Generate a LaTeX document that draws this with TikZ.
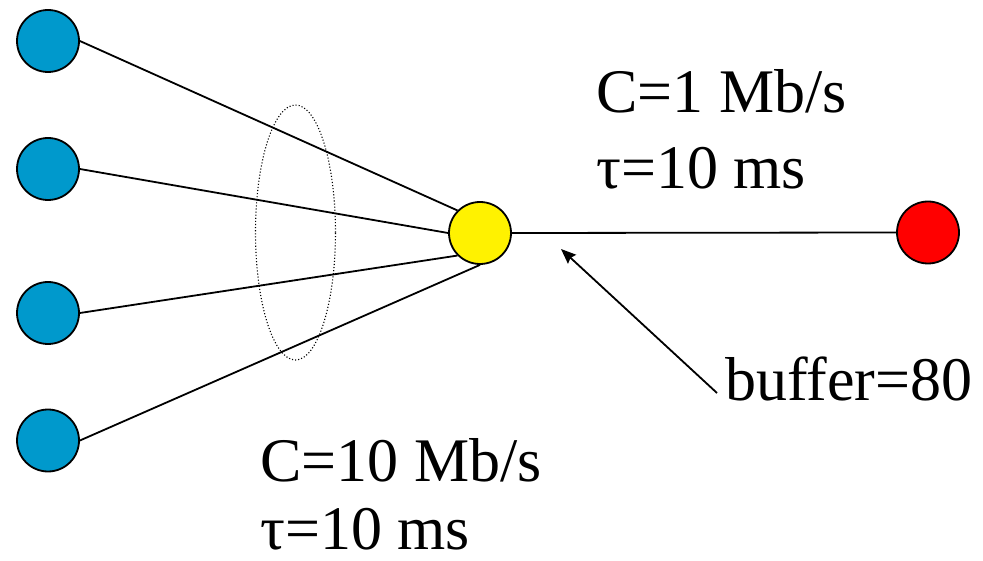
\documentclass[tikz,border=0pt]{standalone}
\usepackage{fontspec}
\setmainfont{Liberation Serif}
\usetikzlibrary{arrows.meta,shapes.geometric}
\definecolor{srcblue}{RGB}{0,153,204}

\begin{document}
\begin{tikzpicture}[x=1pt,y=-1pt,>={Stealth[length=15pt,width=12pt,inset=2pt]}]
    \tikzstyle{host}=[circle, draw, line width=1.8pt, minimum size=62pt, inner sep=0pt]
    \tikzstyle{link}=[line width=1.8pt]
    \tikzstyle{lbl}=[anchor=base west, inner sep=0pt, font=\fontsize{62}{74}\selectfont]
    \useasboundingbox (0,0) rectangle (983,561);

    \node[host, fill=srcblue] (s1) at (48,41) {};
    \node[host, fill=srcblue] (s2) at (48,169) {};
    \node[host, fill=srcblue] (s3) at (48,313) {};
    \node[host, fill=srcblue] (s4) at (48,440.5) {};

    \node[host, fill=yellow] (router) at (480,233) {};
    \node[host, fill=red] (sink) at (928,232.5) {};

    \node[draw, dotted, ellipse, line width=1.1pt, minimum width=80pt, minimum height=255pt, inner sep=0pt] (bundle) at (295.5,232.5) {};

    \node[lbl] (cap1) at (596,113) {C=1 Mb/s};
    \node[lbl] (tau1) at (596,189) {τ=10 ms};
    \node[lbl] (buf) at (725,400) {buffer=80};
    \node[lbl] (cap2) at (260,481) {C=10 Mb/s};
    \node[lbl] (tau2) at (260,549) {τ=10 ms};
    \coordinate (qpos) at (561,249);

    \draw[link] (s1.east) -- (router.135);
    \draw[link] (s2.east) -- (router.west);
    \draw[link] (s3.east) -- (router.225);
    \draw[link] (s4.east) -- (router.south);
    \draw[link] (router.east) -- (sink.west);
    \draw[->, link] ([shift={(-8,-7)}]buf.base west) -- (qpos);
\end{tikzpicture}
\end{document}
